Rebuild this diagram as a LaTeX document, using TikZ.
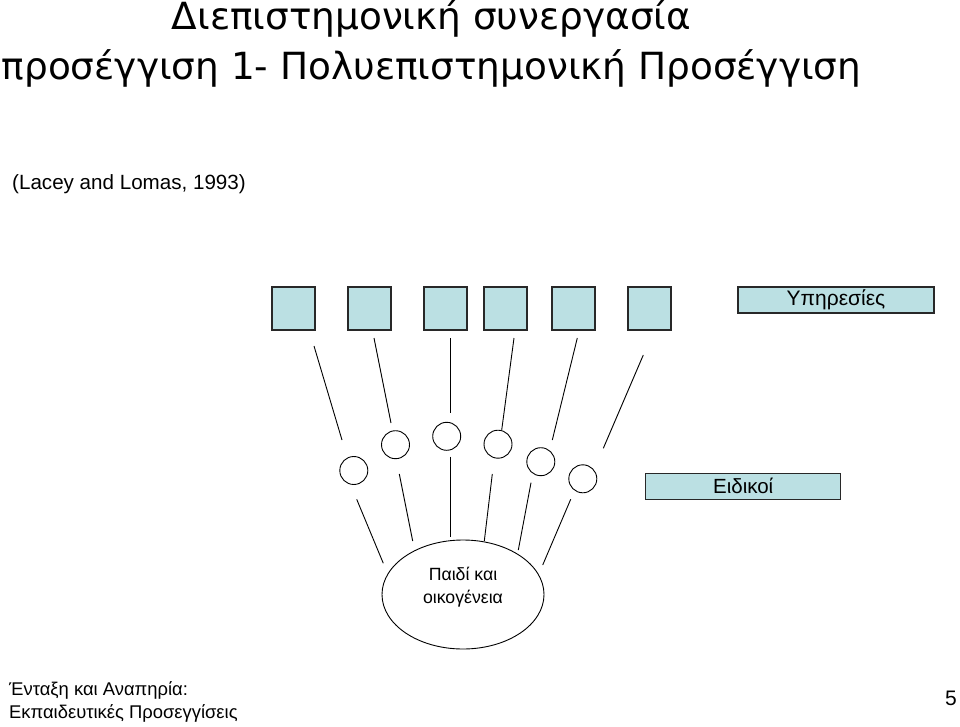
\documentclass[tikz,border=0pt]{standalone}
\usepackage{fontspec}
\setmainfont{Liberation Sans}
\newfontfamily\titlefont{DejaVu Sans}
\usetikzlibrary{shapes.geometric}
\definecolor{boxfill}{RGB}{187,224,227}
\definecolor{boxline}{RGB}{40,40,40}
\begin{document}
\begin{tikzpicture}[x=1pt,y=-1pt,
  sq/.style={draw=boxline,line width=1.4pt,fill=boxfill,minimum width=43pt,minimum height=43pt,inner sep=0pt},
  lbl/.style={draw=boxline,line width=1.4pt,fill=boxfill,inner sep=0pt},
  circ/.style={draw,circle,line width=0.9pt,minimum size=28pt,inner sep=0pt},
  conn/.style={line width=0.9pt}]
\useasboundingbox (0,0) rectangle (960,727);
% title
\node[font=\titlefont\fontsize{37.4}{51}\selectfont,anchor=base] (t1) at (431.5,29.5) {Διεπιστημονική συνεργασία};
\node[font=\titlefont\fontsize{37.4}{51}\selectfont,anchor=base] (t2) at (431.5,80) {προσέγγιση 1- Πολυεπιστημονική Προσέγγιση};
\node[font=\fontsize{20.6}{24}\selectfont,anchor=base west,inner sep=0pt] (ref) at (12,189.5) {(Lacey and Lomas, 1993)};
% squares
\foreach \i/\x in {1/293.5,2/369.5,3/445.5,4/505.5,5/573.5,6/649.5}
  \node[sq] (s\i) at (\x,308.5) {};
\node[lbl,minimum width=196pt,minimum height=26pt,font=\fontsize{21}{24}\selectfont] (yp) at (836,300) {Υπηρεσίες};
\node[lbl,minimum width=195pt,minimum height=26pt,font=\fontsize{20.5}{24}\selectfont] (ei) at (743.2,486.3) {Ειδικοί};
% circles
\node[circ] (c1) at (353.8,470.5) {};
\node[circ] (c2) at (395.5,444.7) {};
\node[circ] (c3) at (446.7,436.3) {};
\node[circ] (c4) at (498,444.2) {};
\node[circ] (c5) at (540.8,461.7) {};
\node[circ] (c6) at (582.8,478.8) {};
% ellipse
\node[draw,ellipse,line width=0.9pt,minimum width=162pt,minimum height=109pt,inner sep=0pt] (pk) at (463,594.5) {};
\node[font=\fontsize{17.7}{22.5}\selectfont,align=center,anchor=base,inner sep=0pt] (pkt) at (463,603) {Παιδί και\\οικογένεια};
% connector end points
\coordinate (u1a) at (314,346); \coordinate (u1b) at (342,440);
\coordinate (u2a) at (374,338); \coordinate (u2b) at (391,423);
\coordinate (u3a) at (450,338); \coordinate (u3b) at (450,413);
\coordinate (u4a) at (514,338); \coordinate (u4b) at (501.7,430);
\coordinate (u5a) at (577.3,338); \coordinate (u5b) at (552.3,440);
\coordinate (u6a) at (643.3,355); \coordinate (u6b) at (603.3,448.3);
\coordinate (l1a) at (356.7,499.3); \coordinate (l1b) at (383.3,563.3);
\coordinate (l2a) at (399.3,474); \coordinate (l2b) at (412.7,541);
\coordinate (l3a) at (450,456.7); \coordinate (l3b) at (450,537.3);
\coordinate (l4a) at (492.3,474); \coordinate (l4b) at (484.3,541);
\coordinate (l5a) at (531,482.7); \coordinate (l5b) at (518.3,550);
\coordinate (l6a) at (570.7,499.3); \coordinate (l6b) at (542.7,565);
\foreach \i in {1,...,6} {
  \draw[conn] (u\i a) -- (u\i b);
  \draw[conn] (l\i a) -- (l\i b);
}
% footer
\node[font=\fontsize{18.4}{23}\selectfont,align=left,anchor=base west,inner sep=0pt] (ft) at (9,718) {Ένταξη και Αναπηρία:\\Εκπαιδευτικές Προσεγγίσεις};
\node[font=\fontsize{21}{24}\selectfont,anchor=base east,inner sep=0pt] (pg) at (957,705) {5};
\end{tikzpicture}
\end{document}
